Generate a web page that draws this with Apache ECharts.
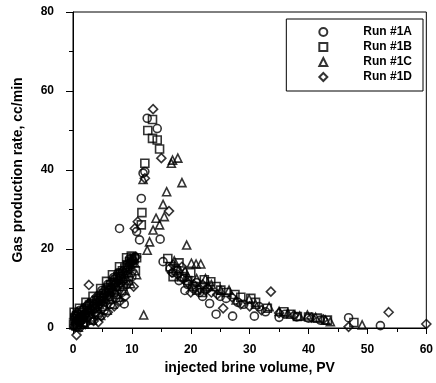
<!DOCTYPE html>
<html>
<head>
<meta charset="utf-8">
<script src="https://cdn.jsdelivr.net/npm/echarts@6/dist/echarts.min.js"></script>
<style>html,body{margin:0;padding:0;background:#fff;}#chart{width:436px;height:383px;}</style>
</head>
<body>
<div id="chart"></div>
<script>
var seriesNames = ['Run #1A', 'Run #1B', 'Run #1C', 'Run #1D'];
var xTicks = [0, 10, 20, 30, 40, 50, 60];
var yTicks = [0, 20, 40, 60, 80];

var run1A = [[0.2,0.5],[0.5,1.5],[0.8,2],[1,2.5],[1.3,1.8],[1.6,3],[2,3.5],[2.3,4],[2.6,3.2],[3,4.8],[3.4,5.5],[3.8,5],[4.2,6.5],[4.6,7],[5,7.8],[5.4,8.5],[5.8,8.2],[6.2,9.5],[6.6,10],[7,10.8],[7.4,11.5],[7.8,12],[8.2,13],[8.6,13.5],[8.7,6.1],[9,14.5],[9.4,15.5],[9.8,16.5],[10.2,17],
  [0.3,3],[0.7,0.3],[1.2,4.5],[1.8,1.2],[2.4,5.5],[3.2,2.2],[3.6,7],[4.4,3.5],[4.9,9.5],[5.3,4.5],[5.9,11],[6.4,6],[6.9,12.8],[7.3,7.5],[7.7,14],[8.3,9],[9.1,11],[9.6,17.5],[10,13],[10.5,18],
  [7.9,25.2],[10.8,24.4],[11.3,22.3],[11.6,32.8],[11.9,39.2],[12.2,39.6],[12.6,53.1],[14.3,50.5],[14.8,22.5],[15.3,16.8],[16.5,15],[17,14],[18,12],[18.9,12.6],[19,9.5],[19.5,11],[20.5,10],[21,11.5],[21.5,9],[22,8],[22.8,10],[23.2,6.2],[24.3,3.5],[25,8],[26,7.5],[27.1,3.0],[28,6.5],[29,6],[30.8,3.0],[31.6,5.4],[32.7,4.1],[35,2.7],[36,3.5],[38,2.8],[40,2.5],[42,2],[46.8,2.6],[52.2,0.6]];

var run1B = [[0.1,1],[0.3,2.5],[0.6,3],[1,3.5],[1.2,2.2],[1.5,4],[2,4.5],[2.4,5],[2.8,5.8],[3.2,6.2],[3.6,5.5],[4,7],[4.4,7.5],[4.8,8.2],[5.2,8.8],[5.6,9.5],[6,10.2],[6.4,11],[6.8,11.5],[7.2,12.3],[7.6,13],[8,13.8],[8.4,14.5],[8.8,15.2],[9.2,16],[9.6,16.8],[10,17.2],[10.4,17.5],[10.8,17.8],
  [0.2,4],[0.5,0.5],[1.1,5],[1.7,1.5],[2.2,6.5],[2.9,2.8],[3.4,8],[4.1,4],[4.7,10],[5.1,5.5],[5.7,11.8],[6.2,7.2],[6.7,13.5],[7.4,8.5],[7.9,15.5],[8.5,10.5],[9.1,17.8],[9.4,12],[9.9,18.2],[10.6,14.5],
  [11.6,26.1],[11.7,29.2],[12.2,41.7],[12.7,50],[13.5,52.8],[13.5,48],[14.3,47.6],[14.7,45.3],[16.1,17.6],[16.5,15.5],[17,13],[17.5,14.5],[18,16.5],[18.5,13],[19.5,12],[20,14],[20.3,10.5],[21,9.6],[22,9],[22.3,12.2],[23.4,11.7],[24.3,10.5],[25.1,9.6],[26,9],[27.5,8.5],[28.5,7.8],[30.2,7.5],[31,6.5],[33,5],[35.8,4.1],[37,3.5],[38.1,2.9],[40,2.8],[41.5,2.5],[43.2,2],[47.7,1.4]];

var run1C = [[0.2,0.8],[0.5,2],[0.9,1.5],[1.3,3],[1.8,2.8],[2.2,3.8],[2.7,4.5],[3.1,3.5],[3.5,5],[4,4.8],[4.5,6],[5,6.8],[5.5,7.5],[6,8],[6.5,9],[7,9.8],[7.5,10.5],[8,11.5],[8.5,12.5],[9,13],[9.5,14],[10,15.5],[10.5,16.5],
  [0.4,3.5],[0.9,0.2],[1.5,5],[2,1],[2.5,6],[3.3,2],[3.9,7.5],[4.7,3.2],[5.2,9],[5.8,4.5],[6.3,10.8],[6.8,6],[7.2,12],[7.8,7.8],[8.2,14.5],[8.8,9.5],[9.3,16],[9.8,11.2],[10.3,17.8],[10.8,13.5],
  [11.9,37.6],[12.0,3.3],[12.6,19.7],[13.0,21.8],[13.6,24.8],[14.1,27.8],[14.7,26.1],[15.3,31.3],[15.5,28.2],[15.9,34.5],[16.7,41.7],[16.9,42.5],[17.8,43],[18.5,36.8],[19.3,21],[17.2,17],[18,15],[19,14.5],[19.5,13],[20.1,16.4],[20.9,16.2],[21,12.5],[21.7,16.2],[22.5,12.5],[23,10.5],[23.5,11],[25.1,9.6],[26.5,9.6],[27.7,7.1],[29.9,7.3],[31,6],[33.3,5.4],[35,4.2],[36.5,3.8],[38.5,3],[39.8,3.3],[41.2,2.7],[42.9,2.0],[43.7,1.6],[49.1,0.8]];

var run1D = [[0.6,-1.8],[0.4,1],[0.8,2.2],[1.1,1.2],[1.5,2.5],[1.9,3.2],[2.3,2.5],[2.7,10.9],[2.9,4],[3.3,4.5],[3.7,3.8],[4.1,5.5],[4.3,1.5],[4.6,6.2],[5.1,7],[5.6,6.5],[6.1,8.5],[6.6,9.2],[7.1,8.8],[7.6,10.8],[8.1,11.2],[8.6,12],[9.1,13.5],[9.6,14.8],[10.1,16],
  [0.2,2.5],[0.7,4],[1.3,0.2],[1.7,4.8],[2.1,1],[2.6,6.2],[3.5,1.8],[4,8],[4.8,3],[5.3,9.5],[5.9,4],[6.4,11.5],[7,5.5],[7.4,13],[8,6.8],[8.4,14.5],[8.9,8],[9.4,16.5],[10.3,10.5],[10.7,18],
  [10.5,25.2],[11.0,26.9],[12.2,37.9],[13.6,55.4],[15.0,43],[16.3,29.6],[16.8,14],[17,16],[17.8,13.5],[18.5,15.5],[18.6,12.5],[19.5,11.5],[20,9],[20.5,11],[21.5,10],[22,11],[22.5,9.5],[23.5,9],[24.5,8.5],[25.5,5],[27,7.8],[28.5,6],[30,5.5],[32,4.5],[33.6,9.2],[35,3.8],[37.5,3.2],[40.5,2.6],[42.5,2.2],[46.8,0.3],[53.6,4.0],[60,1.0]];

var symbols = ['circle', 'rect', 'triangle', 'diamond'];
var sizes = [8, 8, 8, 9];
var allData = [run1A, run1B, run1C, run1D];

var chart = echarts.init(document.getElementById('chart'), null, {renderer: 'canvas'});
var fontFam = '"Liberation Sans", Arial, sans-serif';

var series = seriesNames.map(function (n, i) {
  return {
    name: n,
    type: 'scatter',
    symbol: symbols[i],
    symbolSize: sizes[i],
    clip: false,
    data: allData[i],
    itemStyle: {color: 'rgba(255,255,255,0)', borderColor: '#000', borderWidth: 1.6},
    emphasis: {disabled: true}
  };
});

chart.setOption({
  animation: false,
  backgroundColor: '#fff',
  grid: {left: 73, right: 8, top: 12, bottom: 55, show: true, borderColor: '#000', borderWidth: 1, backgroundColor: 'transparent'},
  legend: {
    orient: 'vertical',
    right: 13,
    top: 19,
    padding: [7, 11, 8, 32],
    itemGap: 3,
    itemWidth: 8,
    itemHeight: 8,
    borderColor: '#000',
    borderWidth: 1,
    data: seriesNames,
    textStyle: {fontFamily: fontFam, fontWeight: 'bold', fontSize: 12, color: '#000', padding: [0, 0, 0, 31]}
  },
  xAxis: {
    type: 'value',
    min: xTicks[0],
    max: xTicks[xTicks.length - 1],
    interval: 10,
    name: 'injected brine volume, PV',
    nameLocation: 'middle',
    nameGap: 33,
    nameTextStyle: {fontFamily: fontFam, fontWeight: 'bold', fontSize: 14, color: '#000'},
    axisLine: {show: true, onZero: false, lineStyle: {color: '#000', width: 1}},
    axisTick: {show: true, inside: false, length: 6, lineStyle: {color: '#000'}},
    minorTick: {show: true, splitNumber: 2, length: 4, lineStyle: {color: '#000'}},
    splitLine: {show: false},
    axisLabel: {margin: 16, fontFamily: fontFam, fontWeight: 'bold', fontSize: 12, color: '#000'}
  },
  yAxis: {
    type: 'value',
    min: yTicks[0],
    max: yTicks[yTicks.length - 1],
    interval: 20,
    name: 'Gas production rate, cc/min',
    nameLocation: 'middle',
    nameGap: 48,
    nameTextStyle: {fontFamily: fontFam, fontWeight: 'bold', fontSize: 14, color: '#000'},
    axisLine: {show: true, onZero: false, lineStyle: {color: '#000', width: 1}},
    axisTick: {show: true, inside: false, length: 7, lineStyle: {color: '#000'}},
    minorTick: {show: true, splitNumber: 2, length: 4, lineStyle: {color: '#000'}},
    splitLine: {show: false},
    axisLabel: {margin: 19, fontFamily: fontFam, fontWeight: 'bold', fontSize: 12, color: '#000'}
  },
  series: series
});
</script>
</body>
</html>
